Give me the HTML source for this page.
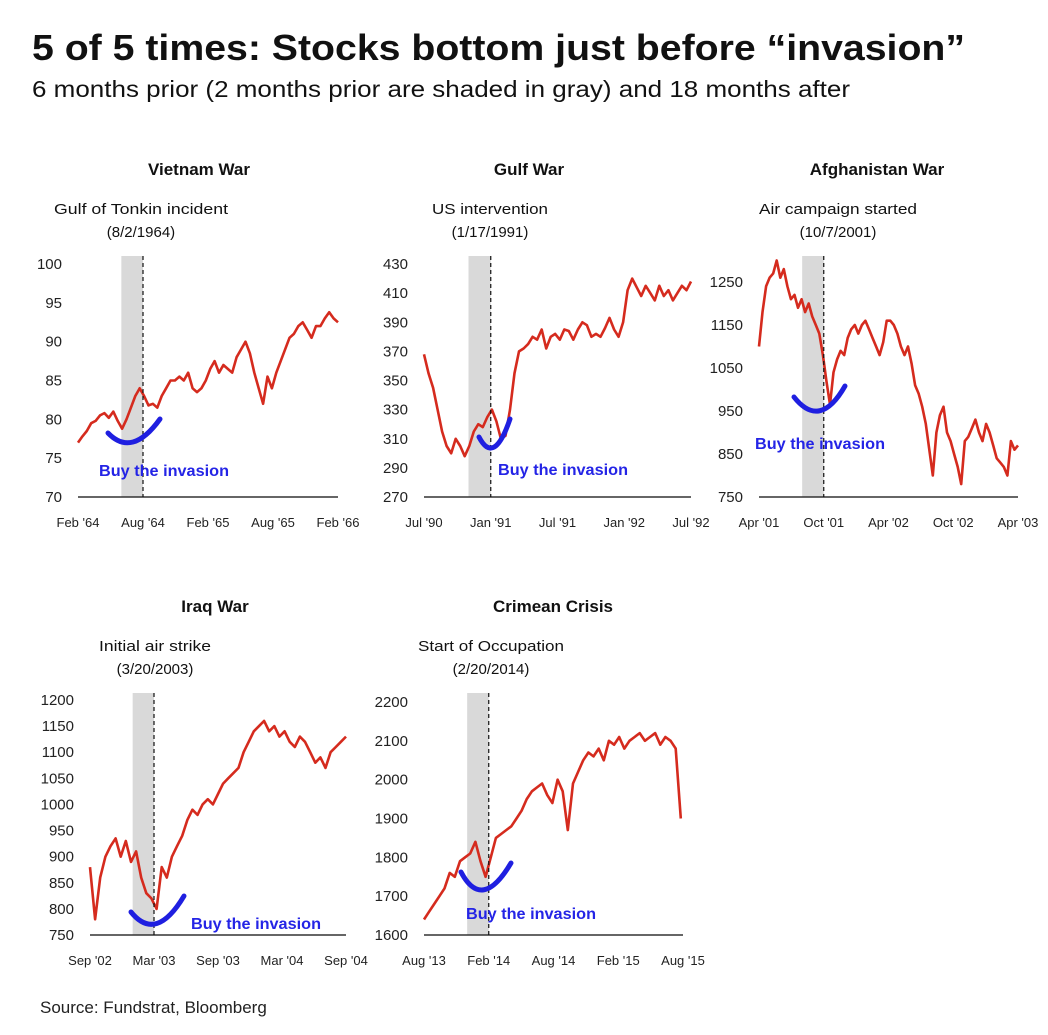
<!DOCTYPE html>
<html><head><meta charset="utf-8"><style>
html,body{margin:0;padding:0;background:#fff;}
svg{display:block;font-family:"Liberation Sans",Arial,sans-serif;}
</style></head><body>
<svg id="s" width="1048" height="1035" viewBox="0 0 1048 1035">
<text x="32" y="60" font-size="36" font-weight="bold" textLength="933" lengthAdjust="spacingAndGlyphs" fill="#111">5 of 5 times: Stocks bottom just before “invasion”</text>
<text x="32" y="97" font-size="23" textLength="818" lengthAdjust="spacingAndGlyphs" fill="#111">6 months prior (2 months prior are shaded in gray) and 18 months after</text>
<text x="40" y="1013" font-size="17" fill="#222">Source: Fundstrat, Bloomberg</text>
</svg>
<script>
const vietnamValues=[77,77.8,78.5,79.5,79.8,80.5,80.8,80.2,81,79.8,78.8,80,81.5,83,84,83,81.8,82,81.5,83,84,85,85,85.5,85,86,84,83.5,84,85,86.5,87.5,86,87,86.5,86,88,89,90,88.5,86,84,82,85.5,84,86,87.5,89,90.5,91,92,92.5,91.5,90.5,92,92,93,93.8,93,92.5];
const gulfValues=[368,355,345,330,315,305,300,310,305,298,305,315,320,318,325,330,322,310,312,330,355,370,372,375,380,378,385,372,380,382,378,385,384,378,385,390,388,380,382,380,386,393,385,380,390,412,420,414,408,415,410,405,415,408,412,405,410,415,412,418];
const afghanValues=[1100,1180,1240,1260,1270,1300,1260,1280,1240,1210,1220,1190,1210,1180,1200,1170,1150,1130,1080,1020,965,1040,1070,1090,1080,1120,1140,1150,1130,1150,1160,1140,1120,1100,1080,1110,1160,1160,1150,1130,1100,1080,1100,1060,1010,990,960,920,860,800,900,940,960,900,880,850,820,780,880,890,910,930,900,880,920,900,870,840,830,820,800,880,860,870];
const iraqValues=[880,780,860,900,920,935,900,930,890,910,860,830,820,800,880,860,900,920,940,970,990,980,1000,1010,1000,1020,1040,1050,1060,1070,1100,1120,1140,1150,1160,1140,1150,1130,1140,1120,1110,1130,1120,1100,1080,1090,1070,1100,1110,1120,1130];
const crimeaValues=[1640,1660,1680,1700,1720,1760,1750,1790,1800,1810,1840,1790,1750,1800,1850,1860,1870,1880,1900,1920,1950,1970,1980,1990,1960,1940,2000,1970,1870,1990,2020,2050,2070,2060,2080,2050,2100,2090,2110,2080,2100,2110,2120,2100,2110,2120,2090,2110,2100,2080,1900];
const vietnamTicks=[70,75,80,85,90,95,100];
const gulfTicks=[270,290,310,330,350,370,390,410,430];
const afghanTicks=[750,850,950,1050,1150,1250];
const iraqTicks=[750,800,850,900,950,1000,1050,1100,1150,1200];
const crimeaTicks=[1600,1700,1800,1900,2000,2100,2200];
const vietnamLabels=["Feb '64","Aug '64","Feb '65","Aug '65","Feb '66"];
const gulfLabels=["Jul '90","Jan '91","Jul '91","Jan '92","Jul '92"];
const afghanLabels=["Apr '01","Oct '01","Apr '02","Oct '02","Apr '03"];
const iraqLabels=["Sep '02","Mar '03","Sep '03","Mar '04","Sep '04"];
const crimeaLabels=["Aug '13","Feb '14","Aug '14","Feb '15","Aug '15"];

const NS='http://www.w3.org/2000/svg';
const svg=document.getElementById('s');
function mk(tag,attrs,parent,text){const e=document.createElementNS(NS,tag);for(const k in attrs)e.setAttribute(k,attrs[k]);if(text!==undefined)e.textContent=text;(parent||svg).appendChild(e);return e;}

function chart(o){
  const g=mk('g',{});
  
  
  const ymin=o.ticks[0],ymax=o.ticks[o.ticks.length-1];
  const yS=v=>o.y0-(v-ymin)/(ymax-ymin)*(o.y0-o.yTop);
  const xS=m=>o.x0+m/24*(o.x1-o.x0);
  const t=mk('text',{x:o.tc,y:o.ty,'font-size':17,'font-weight':'bold','text-anchor':'middle',fill:'#111'},g,o.title);
  
  
  const a1=mk('text',{x:o.ac,y:o.ty+39,'font-size':15,'text-anchor':'middle',fill:'#111',textLength:o.aw,lengthAdjust:'spacingAndGlyphs'},g,o.ann1);
  
  
  const a2=mk('text',{x:o.ac,y:o.ty+62,'font-size':15,'text-anchor':'middle',fill:'#111'},g,o.ann2);
  
  
  const sh=mk('rect',{x:xS(4),y:o.ty+81,width:xS(6)-xS(4),height:o.y0-o.ty-81,fill:'#d9d9d9'},g);
  
  
  o.ticks.forEach(v=>{const e=mk('text',{x:o.x0-16,y:yS(v)+5,'font-size':15,'text-anchor':'end',fill:'#222'},g,String(v));
    
    });
  o.labels.forEach((l,i)=>{const e=mk('text',{x:xS(i*6),y:o.y0+30,'font-size':13,'text-anchor':'middle',fill:'#222'},g,l);
    
    });
  const ax=mk('line',{x1:o.x0,x2:o.x1,y1:o.y0,y2:o.y0,stroke:'#333','stroke-width':1.5},g);
  
  
  const n=o.values.length;
  const d=o.values.map((v,i)=>(i?'L':'M')+xS(i*(o.span||24)/(n-1)).toFixed(1)+','+yS(v).toFixed(1)).join('');
  const p=mk('path',{d:d,fill:'none',stroke:'#d52b1e','stroke-width':2.6,'stroke-linejoin':'round'},g);
  
  
  const dl=mk('line',{x1:xS(6),x2:xS(6),y1:o.ty+81,y2:o.y0,stroke:'#111','stroke-width':1.2,'stroke-dasharray':'4,3'},g);
  
  
  const sw=mk('path',{d:o.swoosh,fill:'none',stroke:'#1f1fe0','stroke-width':5,'stroke-linecap':'round'},g);
  
  
  const bt=mk('text',{x:o.bx,y:o.by,'font-size':16,'font-weight':'bold',fill:'#2424e6',textLength:130,lengthAdjust:'spacingAndGlyphs'},g,'Buy the invasion');
  
  
}
chart({name:'vietnam',title:'Vietnam War',ann1:'Gulf of Tonkin incident',ann2:'(8/2/1964)',tc:199,ac:141,aw:174,ty:175,x0:78,x1:338,y0:497,yTop:264,ticks:vietnamTicks,labels:vietnamLabels,values:vietnamValues,swoosh:'M108,433 Q132,458 160,419',bx:99,by:476});
chart({name:'gulf',title:'Gulf War',ann1:'US intervention',ann2:'(1/17/1991)',tc:529,ac:490,aw:116,ty:175,x0:424,x1:691,y0:497,yTop:264,ticks:gulfTicks,labels:gulfLabels,values:gulfValues,swoosh:'M479,437 Q494,466 510,419',bx:498,by:475});
chart({name:'afghanistan',title:'Afghanistan War',ann1:'Air campaign started',ann2:'(10/7/2001)',tc:877,ac:838,aw:158,ty:175,x0:759,x1:1018,y0:497,yTop:282,ticks:afghanTicks,labels:afghanLabels,values:afghanValues,swoosh:'M794,397 Q820,430 845,386',bx:755,by:449});
chart({name:'iraq',title:'Iraq War',ann1:'Initial air strike',ann2:'(3/20/2003)',tc:215,ac:155,aw:112,ty:612,x0:90,x1:346,y0:935,yTop:700,ticks:iraqTicks,labels:iraqLabels,values:iraqValues,swoosh:'M131,912 Q156,943 184,896',bx:191,by:929});
chart({name:'crimea',title:'Crimean Crisis',ann1:'Start of Occupation',ann2:'(2/20/2014)',tc:553,ac:491,aw:146,ty:612,x0:424,x1:683,y0:935,yTop:702,ticks:crimeaTicks,labels:crimeaLabels,values:crimeaValues,span:23.8,swoosh:'M461,872 Q482,912 511,863',bx:466,by:919});
</script>
</body></html>
